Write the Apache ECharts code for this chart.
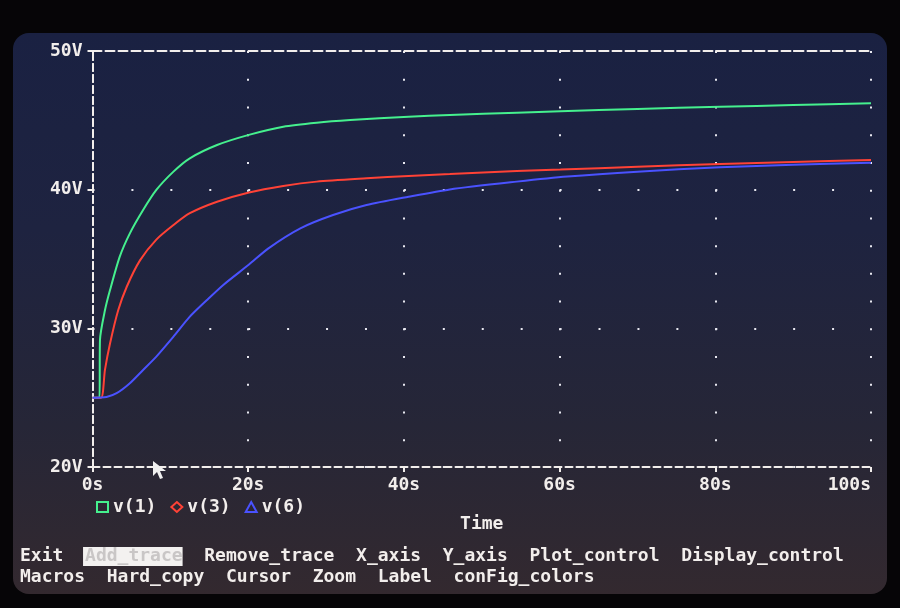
<!DOCTYPE html>
<html>
<head>
<meta charset="utf-8">
<script src="https://cdn.jsdelivr.net/npm/echarts@6/dist/echarts.min.js"></script>
<style>
  html, body { margin: 0; padding: 0; background: #060507; }
  #wrap { position: relative; width: 900px; height: 608px; overflow: hidden; background: #060507; }
  #screen { position: absolute; left: 13px; top: 33px; width: 874px; height: 561px; border-radius: 16px;
    background: linear-gradient(to bottom, #1a2142 0%, #1e2340 35%, #262637 70%, #33292f 100%); }
  #chart { position: absolute; left: 0; top: 0; width: 900px; height: 608px; }
</style>
</head>
<body>
<div id="wrap"><div id="screen"></div><div id="chart"></div></div>
<script>
// ---- data ----
const seriesNames = ['v(1)', 'v(3)', 'v(6)'];
const xTickLabels = ['0s', '20s', '40s', '60s', '80s', '100s'];
const yTickLabels = ['20V', '30V', '40V', '50V'];

const v1Time = [0, 0.9, 0.96, 1.6, 2.25, 3.5, 4.8, 6.5, 8.2, 10.4, 12.5, 16.0, 20.2, 24.5, 28.8, 33.1, 40.6, 45.9, 54.5, 60.1, 70, 80.6, 90, 100];
const v1Volt = [25, 25, 29.16, 31.3, 32.76, 35.17, 36.85, 38.53, 39.98, 41.30, 42.26, 43.22, 43.97, 44.54, 44.83, 45.02, 45.26, 45.38, 45.55, 45.65, 45.82, 45.98, 46.1, 46.23];

const v3Time = [0, 1.1, 1.6, 2.25, 3.3, 4.4, 6.1, 8.2, 10.4, 12.5, 16, 20.1, 24.5, 28.8, 35.2, 40.6, 45.9, 54.5, 60.1, 70, 80.6, 90, 100];
const v3Volt = [25, 25, 27.0, 28.9, 31.3, 33.0, 34.9, 36.4, 37.45, 38.3, 39.13, 39.8, 40.27, 40.58, 40.82, 40.99, 41.13, 41.35, 41.45, 41.65, 41.85, 42.0, 42.14];

const v6Time = [0, 1.8, 3.1, 4.8, 6.5, 8.2, 10.4, 12.5, 14.7, 16.8, 20.1, 22.6, 26.7, 30.9, 35.2, 40.6, 45.9, 54.5, 61, 70, 80.6, 90, 100];
const v6Volt = [25, 25.05, 25.32, 26.04, 27.0, 27.96, 29.4, 30.84, 32.04, 33.13, 34.6, 35.77, 37.21, 38.17, 38.89, 39.49, 40.02, 40.58, 40.95, 41.3, 41.61, 41.8, 41.95];

const menuLine1 = ['Exit', 'Add_trace', 'Remove_trace', 'X_axis', 'Y_axis', 'Plot_control', 'Display_control'];
const menuLine2 = ['Macros', 'Hard_copy', 'Cursor', 'Zoom', 'Label', 'conFig_colors'];

// ---- styling ----
const FONT = 'DejaVu Sans Mono';
const TXT = '#f2eeec';
const colors = ['#45f08e', '#ff4236', '#4a52ff'];
const G = { left: 92.5, right: 29, top: 51, bottom: 141 };
const plotW = 900 - G.left - G.right;
const plotH = 608 - G.top - G.bottom;
const dotX = plotW / 20;  // dots every 5s along horizontal grid lines
const dotY = plotH / 15;  // dots every 2V along vertical grid lines

function zip(t, v) { return t.map((x, i) => [x, v[i]]); }
const seriesData = [zip(v1Time, v1Volt), zip(v3Time, v3Volt), zip(v6Time, v6Volt)];

const dashAxis = { lineStyle: { color: TXT, width: 2, type: [7, 4] } };
const labelStyle = { color: TXT, fontFamily: FONT, fontWeight: 'bold', fontSize: 18 };

// menu graphics (monospace columns, 2 spaces between words)
const CW = 10.84;
function menuTexts(words, y) {
  const out = [];
  let col = 0;
  words.forEach(w => {
    const x = 20 + col * CW;
    if (w === 'Add_trace') {
      out.push({ type: 'rect', shape: { x: x - 2, y: y - 9, width: w.length * CW + 2, height: 19 }, style: { fill: '#f3f1f0' } });
      out.push({ type: 'text', x: x, y: y, style: { text: w, fill: '#c9c6c6', font: 'bold 18px ' + FONT, textVerticalAlign: 'middle' } });
    } else {
      out.push({ type: 'text', x: x, y: y, style: { text: w, fill: TXT, font: 'bold 18px ' + FONT, textVerticalAlign: 'middle' } });
    }
    col += w.length + 2;
  });
  return out;
}

const chart = echarts.init(document.getElementById('chart'), null, { renderer: 'canvas' });
const option = {
  backgroundColor: 'transparent',
  animation: false,
  grid: { left: G.left, right: G.right, top: G.top, bottom: G.bottom, containLabel: false },
  legend: {
    left: 91, top: 493,
    itemWidth: 11, itemHeight: 10, itemGap: 14,
    textStyle: labelStyle,
    data: seriesNames.map((n, i) => ({
      name: n,
      icon: ['rect', 'diamond', 'triangle'][i],
      itemStyle: { color: 'transparent', borderColor: colors[i], borderWidth: 2 }
    }))
  },
  xAxis: [{
    type: 'value', min: 0, max: 100, interval: 20,
    name: 'Time', nameLocation: 'middle', nameGap: 48,
    nameTextStyle: labelStyle,
    axisLine: dashAxis,
    axisTick: { show: true, inside: false, length: 5, lineStyle: { color: TXT, width: 2 } },
    axisLabel: Object.assign({ margin: 9, alignMaxLabel: 'right', formatter: (v) => xTickLabels[v / 20] }, labelStyle),
    splitLine: { show: true, lineStyle: { color: '#e8e8f0', width: 2, type: [2, dotY - 2] } }
  }, {
    type: 'value', min: 0, max: 100, position: 'top',
    axisLine: { lineStyle: { color: TXT, width: 2, type: [9, 4] } },
    axisTick: { show: false }, axisLabel: { show: false }, splitLine: { show: false }
  }],
  yAxis: [{
    type: 'value', min: 20, max: 50, interval: 10,
    axisLine: dashAxis,
    axisTick: { show: true, inside: false, length: 5, lineStyle: { color: TXT, width: 2 } },
    axisLabel: Object.assign({ margin: 10, formatter: (v) => yTickLabels[(v - 20) / 10] }, labelStyle),
    splitLine: { show: true, lineStyle: { color: '#e8e8f0', width: 2, type: [2, dotX - 2] } }
  }, {
    type: 'value', min: 20, max: 50, position: 'right',
    axisLine: dashAxis,
    axisTick: { show: false }, axisLabel: { show: false }, splitLine: { show: false }
  }],
  series: seriesNames.map((n, i) => ({
    name: n, type: 'line', data: seriesData[i],
    showSymbol: false, symbol: 'none', smooth: 0.25,
    lineStyle: { color: colors[i], width: 2 },
    itemStyle: { color: colors[i] },
    z: 5
  })),
  graphic: [].concat(
    menuTexts(menuLine1, 556),
    menuTexts(menuLine2, 577),
    [{
      type: 'polygon', z: 100,
      shape: { points: [[153, 461], [153, 476], [157, 472], [160, 479], [163, 478], [160, 471], [166, 471]] },
      style: { fill: '#f0f0f0' }
    }]
  )
};
chart.setOption(option);
</script>
</body>
</html>
